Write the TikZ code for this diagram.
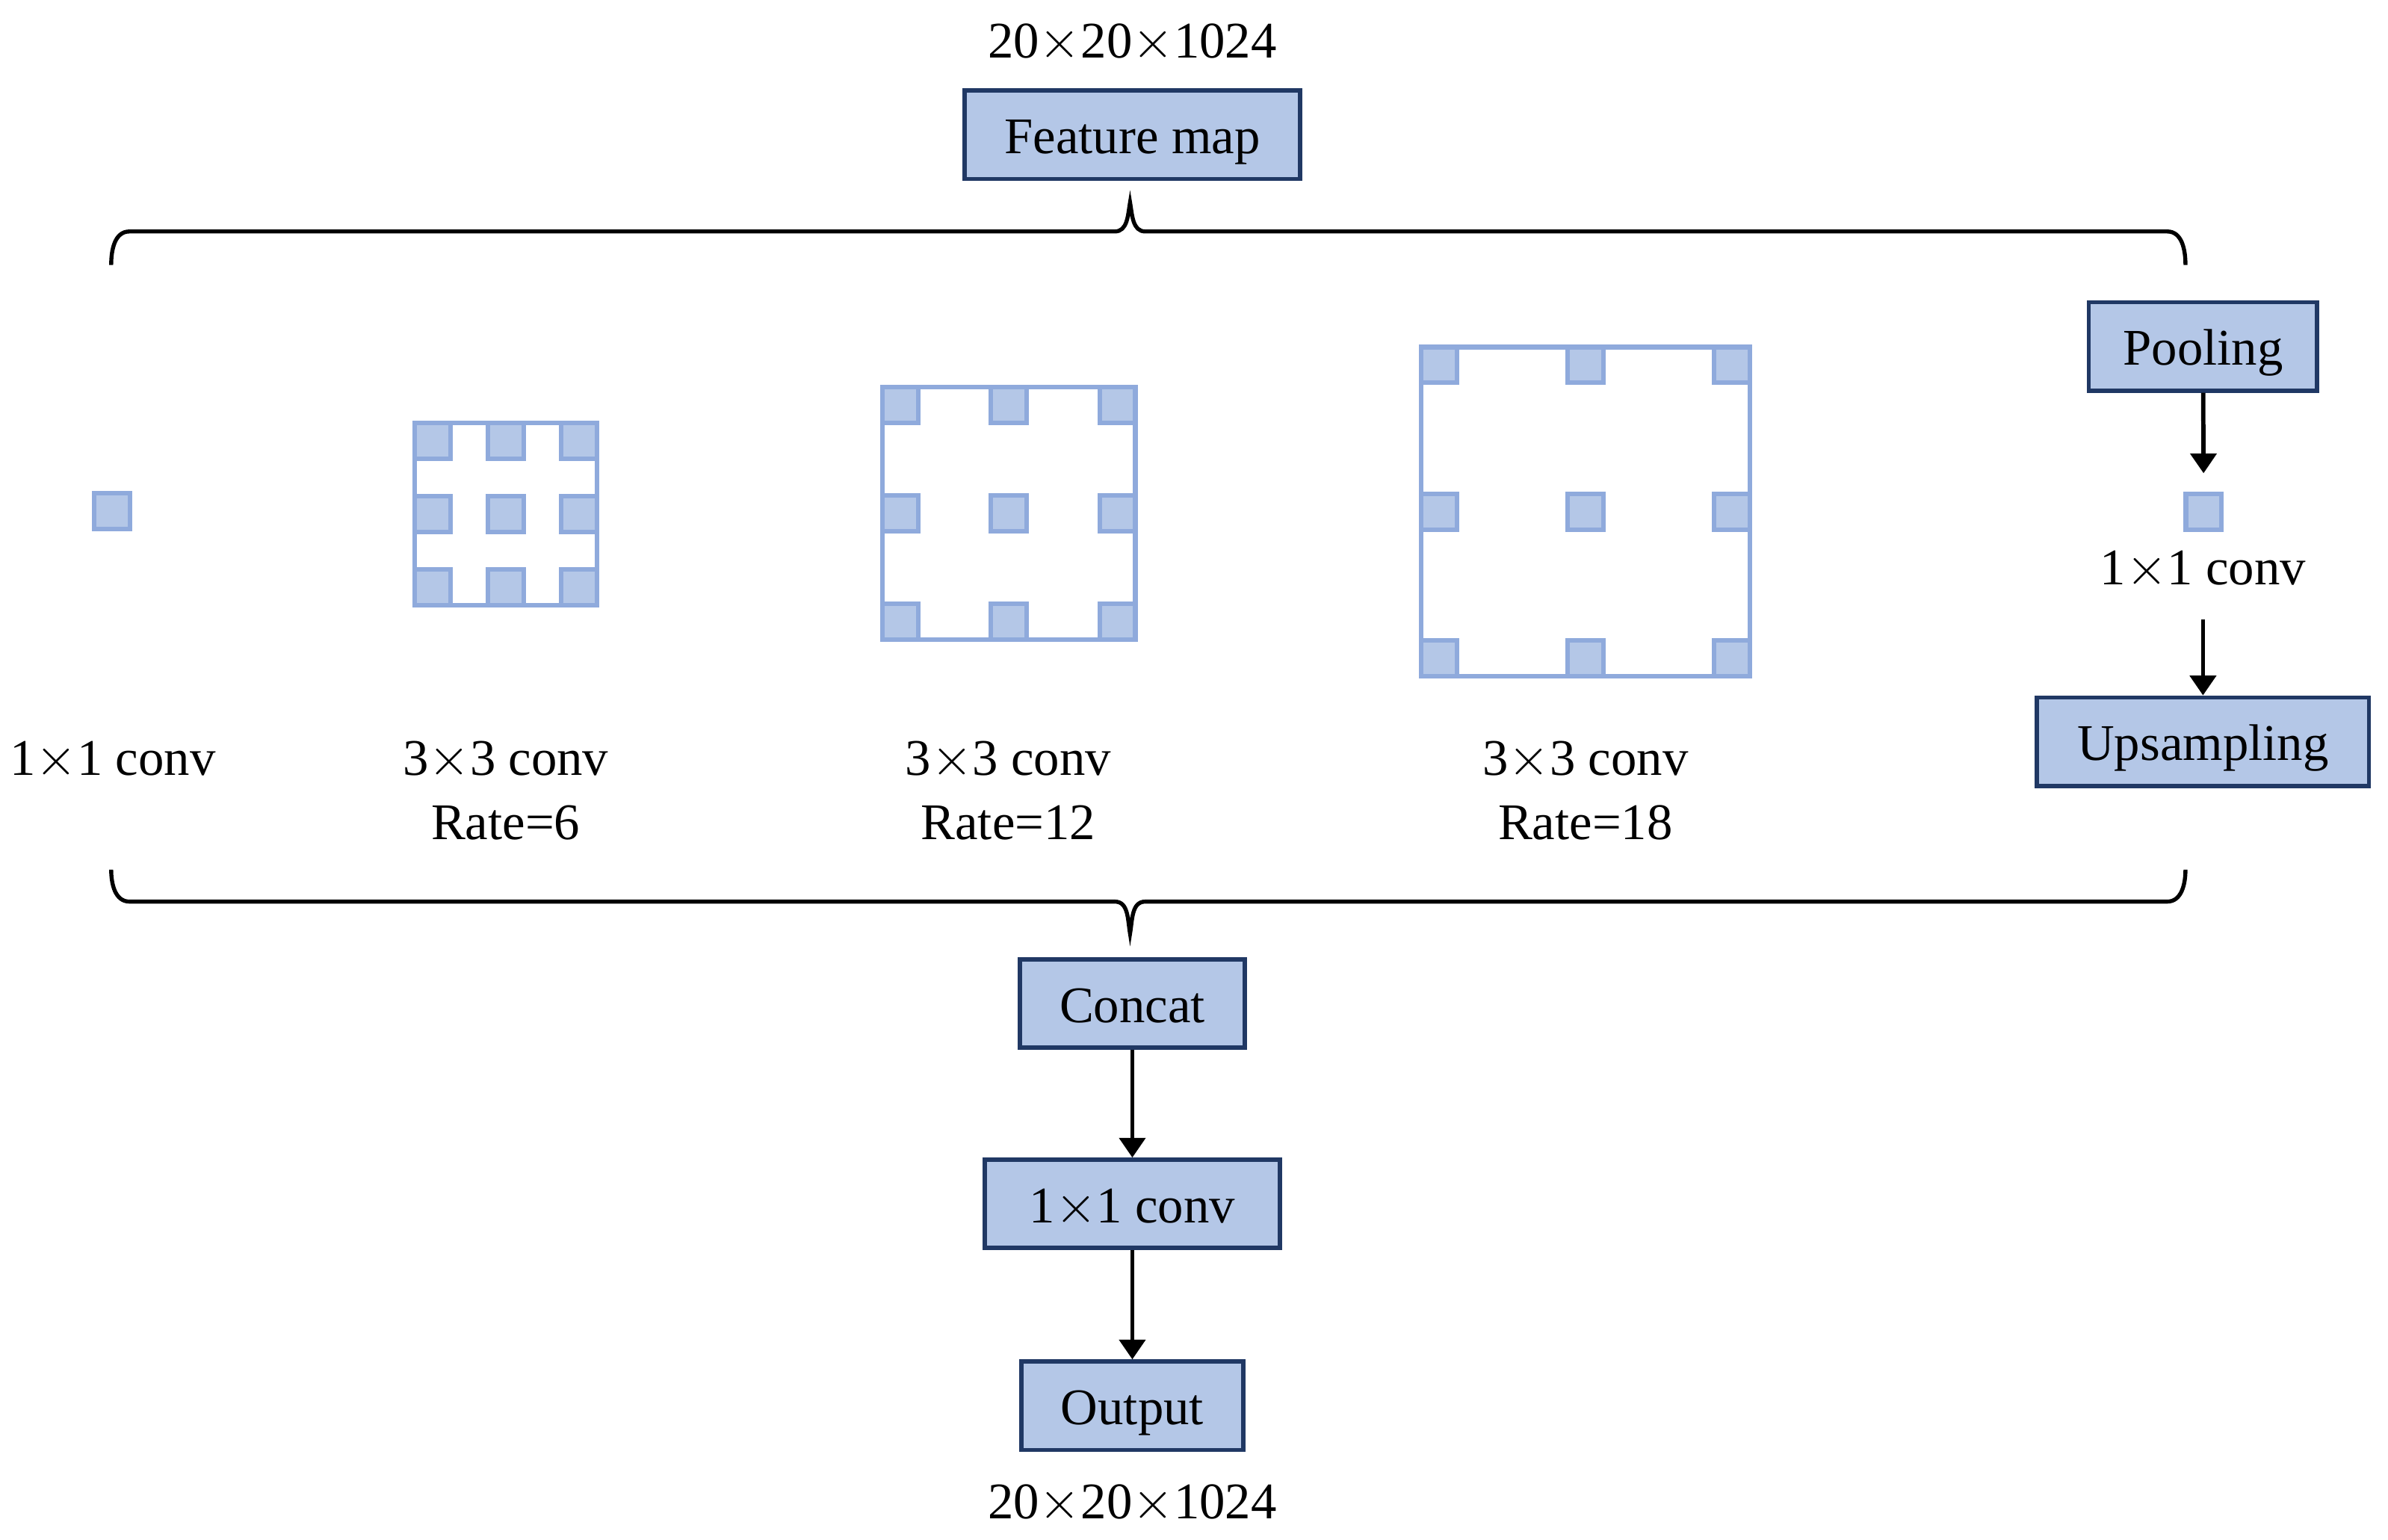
\documentclass[tikz,border=0pt]{standalone}
\usepackage{fontspec}
\setmainfont{Liberation Serif}
\usepackage{tikz}
\usetikzlibrary{arrows.meta}
\usepackage{xcolor}

\definecolor{boxfill}{HTML}{B4C7E7}
\definecolor{boxedge}{HTML}{203864}
\definecolor{kernedge}{HTML}{8FAADC}

% dilated kernel: centre x, centre y, outer size
\newcommand{\kernelgrid}[3]{%
	\draw[kernel frame] ({#1-#3/2+0.015},{#2-#3/2+0.015}) rectangle ({#1+#3/2-0.015},{#2+#3/2-0.015});
	\foreach \i in {-1,0,1}
		\foreach \j in {-1,0,1}
			\draw[kernel frame, fill=boxfill] ({#1+\i*(#3/2-0.1325)-0.1175},{#2+\j*(#3/2-0.1325)-0.1175}) rectangle ++(0.235,0.235);
}

\begin{document}
\begin{tikzpicture}[every node/.style={font=\fontsize{9.6}{11}\selectfont},
	block/.style={draw=boxedge, fill=boxfill, line width=0.8pt, minimum height=0.58cm, text height=0.8em, text depth=0.1em},
	lbl/.style={inner sep=0pt, text height=0.68em, text depth=0.22em},
	cell/.style={draw=kernedge, fill=boxfill, line width=0.03cm, minimum size=0.235cm, inner sep=0pt},
	kernel frame/.style={draw=kernedge, line width=0.03cm},
	arrow/.style={-{Triangle[width=0.17cm,length=0.13cm]}, line width=0.8pt},
	brace/.style={line width=0.75pt}]
	\useasboundingbox (0,0) rectangle (15.68,10.11);

	% input
	\node[lbl, anchor=base] (dimin) at (7.435,9.73) {20$\times$20$\times$1024};
	\node[block, minimum width=2.2cm] (fmap) at (7.435,9.225) {Feature map};

	% braces
	\draw[brace] (0.73,8.37) to[out=90,in=180] (0.85,8.59) -- (7.32,8.59) to[out=0,in=-100] (7.42,8.78)
		to[out=-80,in=180] (7.52,8.59) -- (14.23,8.59) to[out=0,in=90] (14.35,8.37);
	\draw[brace] (0.73,4.40) to[out=-90,in=180] (0.85,4.19) -- (7.32,4.19) to[out=0,in=100] (7.42,3.98)
		to[out=80,in=180] (7.52,4.19) -- (14.23,4.19) to[out=0,in=-90] (14.35,4.40);

	% branches
	\node[cell] (k1) at (0.735,6.755) {};
	\kernelgrid{3.321}{6.735}{1.227}
	\kernelgrid{6.625}{6.74}{1.69}
	\kernelgrid{10.411}{6.751}{2.19}

	\node[lbl, anchor=base] (l1) at (0.74,5.02) {1$\times$1 conv};
	\node[lbl, anchor=base] (l6) at (3.32,5.02) {3$\times$3 conv};
	\node[lbl, anchor=base] (r6) at (3.32,4.60) {Rate=6};
	\node[lbl, anchor=base] (l12) at (6.62,5.02) {3$\times$3 conv};
	\node[lbl, anchor=base] (r12) at (6.62,4.60) {Rate=12};
	\node[lbl, anchor=base] (l18) at (10.41,5.02) {3$\times$3 conv};
	\node[lbl, anchor=base] (r18) at (10.41,4.60) {Rate=18};

	% pooling branch
	\node[block, minimum width=1.5cm] (pool) at (14.465,7.835) {Pooling};
	\node[cell] (pconv) at (14.47,6.75) {};
	\node[lbl, minimum height=0.6cm] (plbl) at (14.465,6.35) {1$\times$1 conv};
	\node[block, minimum width=2.18cm] (up) at (14.465,5.24) {Upsampling};

	\draw[arrow, shorten >=0.12cm] (pool) -- (pconv);
	\draw[arrow] (plbl) -- (up);

	% output
	\node[block, minimum width=1.48cm] (concat) at (7.435,3.52) {Concat};
	\node[block, minimum width=1.94cm] (conv) at (7.435,2.205) {1$\times$1 conv};
	\node[block, minimum width=1.46cm] (out) at (7.435,0.88) {Output};
	\node[lbl, anchor=base] (dimout) at (7.435,0.14) {20$\times$20$\times$1024};

	\draw[arrow] (concat) -- (conv);
	\draw[arrow] (conv) -- (out);
\end{tikzpicture}
\end{document}
